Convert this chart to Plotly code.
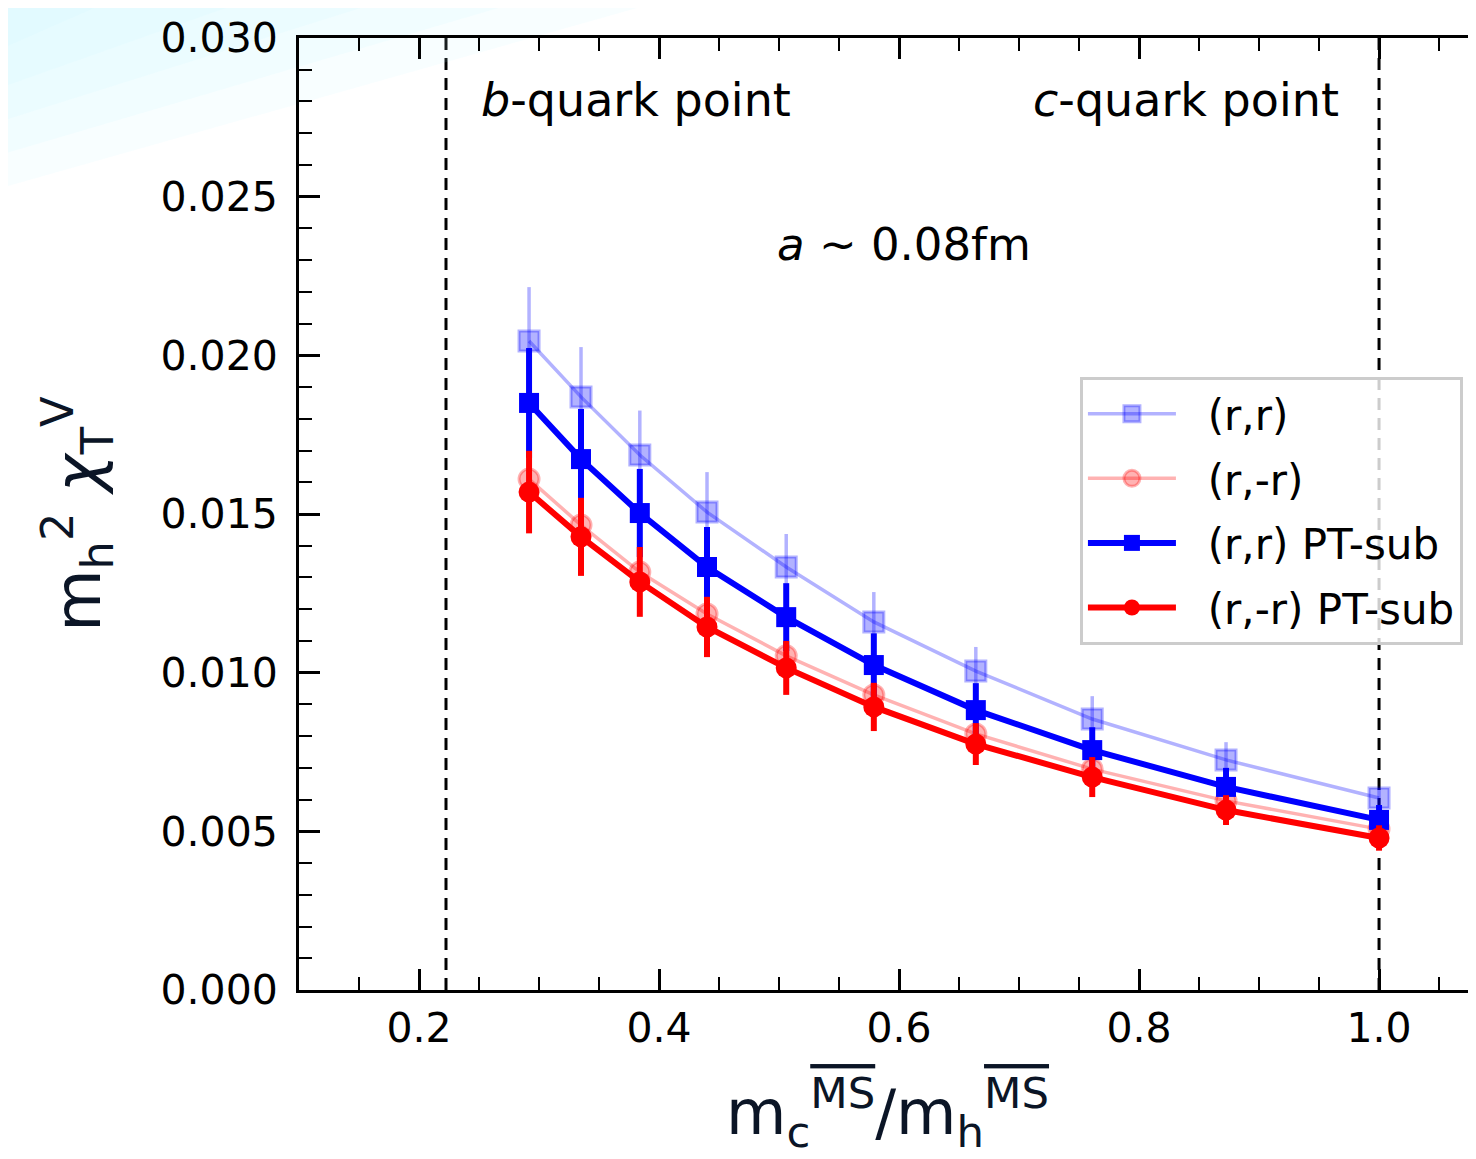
import plotly.graph_objects as go

# ---------------- data ----------------
mass_ratio = [0.2917, 0.335, 0.384, 0.44, 0.506, 0.579, 0.664, 0.761, 0.8725, 1.0]

rr_raw = [0.02045, 0.01869, 0.01686, 0.01506, 0.01333, 0.0116, 0.01005, 0.00854, 0.00725, 0.00605]
rr_raw_err = [0.0017, 0.00157, 0.0014, 0.00126, 0.00104, 0.00094, 0.00076, 0.00072, 0.00056, 0.0003]

rmr_raw = [0.0161, 0.01465, 0.01317, 0.01185, 0.01053, 0.0093, 0.00807, 0.00696, 0.00596, 0.00507]
rmr_raw_err = [0.0013, 0.0012, 0.0011, 0.00095, 0.00085, 0.00076, 0.00066, 0.0006, 0.00047, 0.0003]

rr_sub = [0.0185, 0.01673, 0.01503, 0.01333, 0.01175, 0.01024, 0.00882, 0.00756, 0.0064, 0.00536]
rr_sub_err = [0.00173, 0.00158, 0.00139, 0.00126, 0.00107, 0.001, 0.00085, 0.00072, 0.0006, 0.00047]

rmr_sub = [0.01569, 0.01428, 0.01286, 0.01144, 0.01015, 0.00892, 0.00775, 0.00671, 0.00567, 0.00479]
rmr_sub_err = [0.0013, 0.00123, 0.0011, 0.00095, 0.00085, 0.00076, 0.00066, 0.00063, 0.00047, 0.0004]

series_names = ["(r,r)", "(r,-r)", "(r,r) PT-sub", "(r,-r) PT-sub"]

quark_points = [0.2225, 1.0]
quark_labels = ["<i>b</i>-quark point", "<i>c</i>-quark point"]
label_x = [0.381, 0.839]
label_y = 0.02805
spacing_label = "<i>a</i> ~ 0.08fm"

x_range = [0.1, 1.0808]
y_range = [0.0, 0.030]

FONT = "DejaVu Sans"
NB = "\u00a0"

fig = go.Figure()

LB = "rgba(0,0,255,0.3)"
LR = "rgba(255,0,0,0.3)"

fig.add_trace(go.Scatter(
    x=mass_ratio, y=rr_raw, name=NB * 2 + series_names[0], mode="lines+markers", legendgroup="a",
    line=dict(color=LB, width=3.5),
    marker=dict(symbol="square", size=20, color=LB, line=dict(color=LB, width=3)),
    error_y=dict(type="data", array=rr_raw_err, color=LB, thickness=3.5, width=0),
))
fig.add_trace(go.Scatter(
    x=mass_ratio, y=rmr_raw, name=NB * 2 + series_names[1], mode="lines+markers", legendgroup="b",
    line=dict(color=LR, width=3.5),
    marker=dict(symbol="circle", size=20, color=LR, line=dict(color=LR, width=3)),
    error_y=dict(type="data", array=rmr_raw_err, color=LR, thickness=3.5, width=0),
))
fig.add_trace(go.Scatter(
    x=mass_ratio, y=rr_sub, name=NB * 2 + series_names[2], mode="lines+markers", legendgroup="c",
    line=dict(color="#0000ff", width=6),
    marker=dict(symbol="square", size=20, color="#0000ff"),
    error_y=dict(type="data", array=rr_sub_err, color="#0000ff", thickness=6, width=0),
))
fig.add_trace(go.Scatter(
    x=mass_ratio, y=rmr_sub, name=NB * 2 + series_names[3], mode="lines+markers", legendgroup="d",
    line=dict(color="#ff0000", width=6),
    marker=dict(symbol="circle", size=21, color="#ff0000"),
    error_y=dict(type="data", array=rmr_sub_err, color="#ff0000", thickness=6, width=0),
))

for xq in quark_points:
    fig.add_vline(x=xq, line=dict(color="black", width=3, dash="12px,8px"), layer="below")

for lx, lt in zip(label_x, quark_labels):
    fig.add_annotation(x=lx, y=label_y, xref="x", yref="y", text=lt, showarrow=False,
                       font=dict(family=FONT, size=46, color="black"))
fig.add_annotation(x=0.604, y=0.0235, xref="x", yref="y", text=spacing_label, showarrow=False,
                   font=dict(family=FONT, size=45, color="black"))

# faint cyan tint at the top-left corner of the page (soft wedge)
wedges = [(0.34, 0.840), (0.22, 0.875), (0.10, 0.910), (-0.02, 0.945), (-0.14, 0.985)]
for wx, wy in wedges:
    fig.add_shape(type="path", xref="paper", yref="paper",
                  path=f"M -0.26,1.05 L {wx},1.05 L -0.26,{wy} Z",
                  fillcolor="rgba(200,245,255,0.12)", line=dict(width=0), layer="below")

axis_common = dict(
    showgrid=False, zeroline=False, showline=True, linecolor="black", linewidth=3,
    ticks="inside", ticklen=21, tickwidth=2.5, tickcolor="black",
    tickfont=dict(family=FONT, size=41, color="black"),
)

ms = '<span style="text-decoration:overline">MS</span>'
fig.update_xaxes(
    **axis_common, range=x_range, dtick=0.2, tick0=0.0, tickformat=".1f", mirror="ticks",
    minor=dict(ticks="inside", ticklen=13, tickwidth=2, dtick=0.05, tickcolor="black"),
    title=dict(text=f"m<sub>c</sub><sup>{ms}</sup>/m<sub>h</sub><sup>{ms}</sup>",
               font=dict(family=FONT, size=62, color="#0b1526"), standoff=40),
)
fig.update_yaxes(
    **axis_common, range=y_range, dtick=0.005, tickformat=".3f", mirror=False,
    ticklabelstandoff=10,
    minor=dict(ticks="inside", ticklen=13, tickwidth=2, dtick=0.001, tickcolor="black"),
    title=dict(text="m<sub>h</sub><sup>2</sup> <i>\u03c7</i><sub>T</sub><sup>V</sup>",
               font=dict(family=FONT, size=64, color="#0b1526"), standoff=40),
)

fig.update_layout(
    width=1468, height=1151,
    margin=dict(l=291, r=0, t=30, b=169, autoexpand=False),
    paper_bgcolor="white", plot_bgcolor="white",
    showlegend=True,
    legend=dict(xref="container", yref="container", x=0.7302, y=0.6795,
                xanchor="left", yanchor="top",
                bgcolor="rgba(255,255,255,0.8)", bordercolor="#cccccc", borderwidth=3,
                font=dict(family=FONT, size=42, color="black"), itemwidth=88,
                tracegroupgap=7),
)

fig.write_html("out.html")
